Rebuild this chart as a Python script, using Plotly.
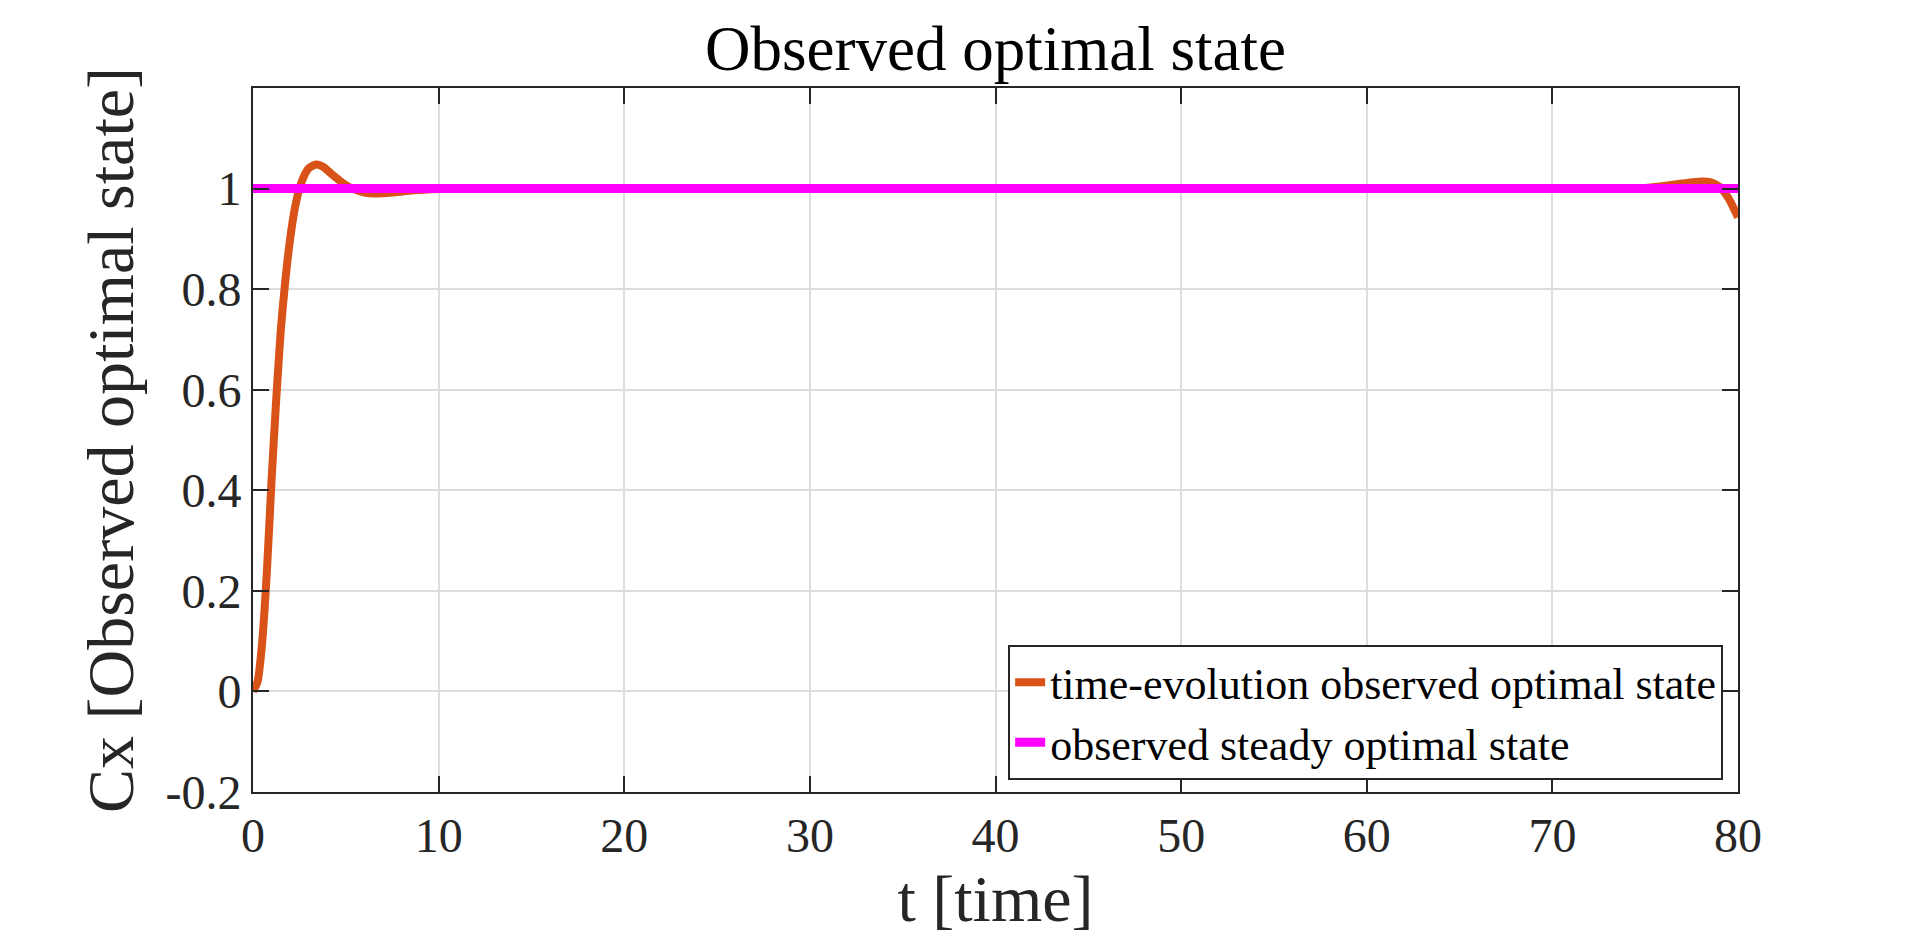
import plotly.graph_objects as go

# time-evolution of the observed optimal state
t_evol = [0, 0.25, 0.5, 0.75, 1.0, 1.25, 1.5, 1.75, 2.0, 2.25, 2.5, 2.75, 3.0, 3.4,
          3.8, 4.2, 4.6, 5.0, 5.5, 6.0, 6.6, 7.5, 8.5, 10, 12, 20, 30, 40, 50, 60,
          70, 74, 75, 76, 77, 78, 78.5, 79, 79.5, 80]
cx_evol = [0, 0.02, 0.1, 0.24, 0.42, 0.58, 0.72, 0.82, 0.9, 0.96, 1.0, 1.025, 1.04, 1.048,
           1.043, 1.03, 1.018, 1.007, 0.998, 0.992, 0.99, 0.992, 0.996, 0.999, 1.0, 1.0, 1.0, 1.0, 1.0, 1.0,
           1.0, 1.0, 1.001, 1.005, 1.01, 1.014, 1.013, 1.004, 0.98, 0.943]

# steady optimal state
t_steady = [0, 80]
cx_steady = [1, 1]

x_ticks = [0, 10, 20, 30, 40, 50, 60, 70, 80]
y_ticks = [-0.2, 0, 0.2, 0.4, 0.6, 0.8, 1]
y_labels = ['-0.2', '0', '0.2', '0.4', '0.6', '0.8', '1']

FONT = 'Liberation Serif'

fig = go.Figure()

fig.add_trace(go.Scatter(
    x=t_evol, y=cx_evol,
    mode='lines',
    name='time-evolution observed optimal state',
    line=dict(color='#D95319', width=8, shape='spline', smoothing=0.6),
))

fig.add_trace(go.Scatter(
    x=t_steady, y=cx_steady,
    mode='lines',
    name='observed steady optimal state',
    line=dict(color='#FF00FF', width=9),
))

axis_style = dict(
    showline=True, linecolor='#262626', linewidth=2,
    mirror='ticks', ticks='inside', ticklen=16, tickwidth=2, tickcolor='#262626',
    showgrid=True, gridcolor='#dcdcdc', gridwidth=1.5,
    zeroline=False,
    tickfont=dict(family=FONT, size=48, color='#262626'),
)

fig.update_layout(
    width=1920, height=936,
    title=dict(text='Observed optimal state', x=0.5, xref='paper', xanchor='center',
               y=1 - 40 / 936, yref='container', yanchor='middle',
               font=dict(family=FONT, size=63, color='black')),
    xaxis=dict(range=[0, 80], tickvals=x_ticks,
               title=dict(text='t [time]', font=dict(family=FONT, size=66, color='#262626'), standoff=8),
               **axis_style),
    yaxis=dict(range=[-0.2, 1.2], tickvals=y_ticks, ticktext=y_labels,
               title=dict(text='Cx [Observed optimal state]', font=dict(family=FONT, size=66, color='#262626'), standoff=10),
               **axis_style),
    legend=dict(x=0.99, y=0.017, xanchor='right', yanchor='bottom',
                bgcolor='white', bordercolor='#262626', borderwidth=2,
                font=dict(family=FONT, size=44, color='black'),
                tracegroupgap=0, itemwidth=30),
    plot_bgcolor='white',
    paper_bgcolor='white',
    margin=dict(l=245, r=190, t=80, b=152),
)

fig.write_html("out.html")
